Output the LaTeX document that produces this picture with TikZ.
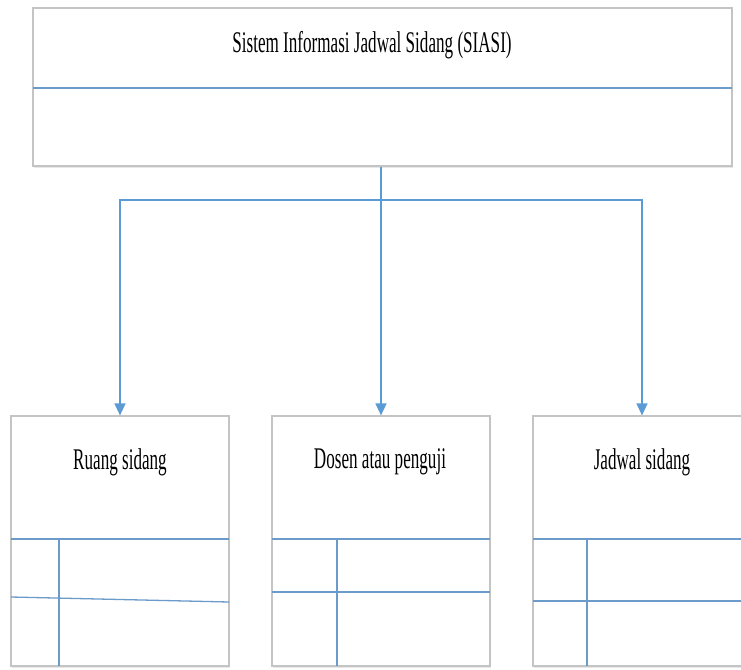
\documentclass[tikz,border=0pt]{standalone}
\usepackage{fontspec}
\setmainfont{Liberation Serif}
\usetikzlibrary{shadows,arrows.meta}
\definecolor{cblue}{HTML}{5B9BD5}
\definecolor{cinner}{HTML}{6A9BCB}
\definecolor{cframe}{HTML}{C4C4C4}
\tikzset{
  boxst/.style={draw=cframe, line width=1.2pt, fill=white, rectangle, inner sep=0pt,
    drop shadow={opacity=0.18, shadow xshift=1pt, shadow yshift=-2pt}},
  titlest/.style={font=\fontsize{30}{31}\selectfont, inner sep=0pt},
  linkst/.style={draw=cblue, line width=1.3pt},
  arrowst/.style={linkst, -{Triangle[length=12pt,width=11pt]}},
  innerst/.style={draw=cinner, line width=1.3pt}
}
\newcommand{\condensed}[1]{\scalebox{0.57}[1]{#1}}
\begin{document}
\begin{tikzpicture}[x=1pt,y=-1pt]
\useasboundingbox (0,0) rectangle (741,669);
\clip (0,0) rectangle (741,669);
% top box
\node[boxst, minimum width=699pt, minimum height=158pt] (sys) at (382.5,87) {};
\draw[innerst] (33,88) -- (732,88);
\node[titlest] (systitle) at (372,45) {\condensed{Sistem Informasi Jadwal Sidang (SIASI)}};
% bottom boxes
\node[boxst, minimum width=218pt, minimum height=250pt] (b1) at (120,541) {};
\node[boxst, minimum width=218pt, minimum height=250pt] (b2) at (381,541) {};
\node[boxst, minimum width=218pt, minimum height=250pt] (b3) at (642,541) {};
\node[titlest] (t1) at (120,462) {\condensed{Ruang sidang}};
\node[titlest] (t2) at (380,462) {\condensed{Dosen atau penguji}};
\node[titlest] (t3) at (642,462) {\condensed{Jadwal sidang}};
% inner lines
\draw[innerst] (11,539) -- (229,539);
\draw[innerst] (59,539) -- (59,666);
\draw[innerst] (11,597) -- (229,602);
\draw[innerst] (272,539) -- (490,539);
\draw[innerst] (337,539) -- (337,666);
\draw[innerst] (272,592) -- (490,592);
\draw[innerst] (533,539) -- (751,539);
\draw[innerst] (587,539) -- (587,666);
\draw[innerst] (533,601) -- (751,601);
% connectors
\coordinate (j) at (381,200);
\draw[linkst] (sys.south -| j) -- (j);
\draw[arrowst] (j) -| (b1.north);
\draw[arrowst] (j) -- (b2.north);
\draw[arrowst] (j) -| (b3.north);
\end{tikzpicture}
\end{document}
